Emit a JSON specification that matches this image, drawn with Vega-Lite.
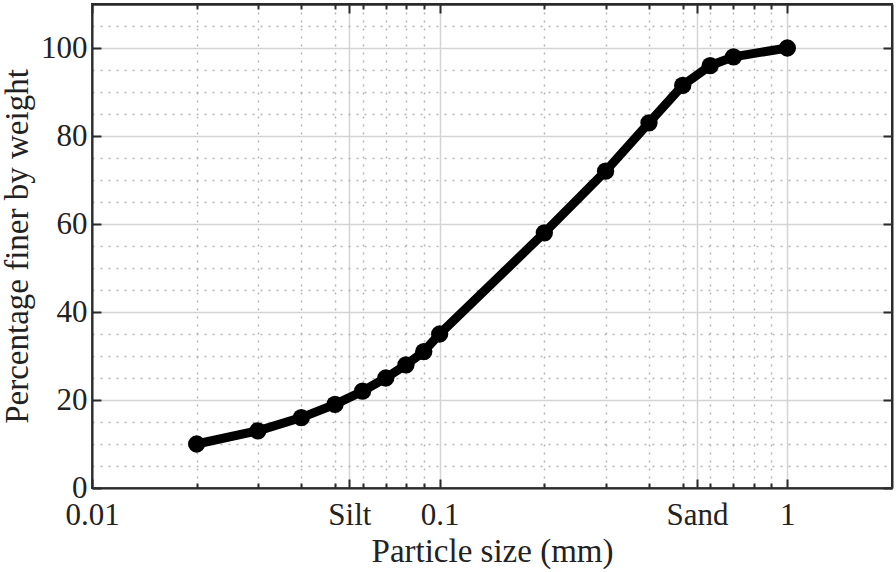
{
  "$schema": "https://vega.github.io/schema/vega-lite/v6.json",
  "width": 800,
  "height": 484,
  "autosize": "none",
  "padding": {"left": 92, "top": 4, "right": 4, "bottom": 84},
  "background": "white",
  "config": {
    "view": {"stroke": "#2b2b2b", "strokeWidth": 2},
    "axis": {
      "labelFont": "Liberation Serif",
      "titleFont": "Liberation Serif",
      "labelFontSize": 31,
      "titleFontSize": 33,
      "labelColor": "#222222",
      "titleColor": "#222222",
      "titleFontWeight": "normal",
      "domainColor": "#2b2b2b",
      "domainWidth": 2,
      "tickColor": "#2b2b2b",
      "tickWidth": 2
    }
  },
  "data": {
    "values": [
      {"size": 0.02, "pct": 10},
      {"size": 0.03, "pct": 13},
      {"size": 0.04, "pct": 16},
      {"size": 0.05, "pct": 19},
      {"size": 0.06, "pct": 22},
      {"size": 0.07, "pct": 25},
      {"size": 0.08, "pct": 28},
      {"size": 0.09, "pct": 31},
      {"size": 0.1, "pct": 35},
      {"size": 0.2, "pct": 58},
      {"size": 0.3, "pct": 72},
      {"size": 0.4, "pct": 83},
      {"size": 0.5, "pct": 91.5},
      {"size": 0.6, "pct": 96},
      {"size": 0.7, "pct": 98},
      {"size": 1, "pct": 100}
    ]
  },
  "resolve": {"scale": {"x": "shared", "y": "shared"}, "axis": {"x": "independent", "y": "independent"}},
  "layer": [
    {
      "mark": {"type": "line", "color": "black", "strokeWidth": 9},
      "encoding": {
        "x": {"field": "size", "type": "quantitative",
          "scale": {"type": "log", "domain": [0.01, 2], "nice": false},
          "axis": {"orient": "bottom", "values": [0.02,0.03,0.04,0.05,0.06,0.07,0.08,0.09,0.2,0.3,0.4,0.5,0.6,0.7,0.8,0.9],
            "labels": false, "domain": false, "tickSize": -5, "title": null,
            "grid": true, "gridColor": "#b5b5b5", "gridDash": [2, 6], "gridWidth": 1.5}},
        "y": {"field": "pct", "type": "quantitative",
          "scale": {"domain": [0, 110], "nice": false, "zero": true},
          "axis": {"orient": "left", "values": [5,10,15,25,30,35,45,50,55,65,70,75,85,90,95,105],
            "labels": false, "domain": false, "ticks": false, "title": null,
            "grid": true, "gridColor": "#b5b5b5", "gridDash": [2, 6], "gridWidth": 1.5}}
      }
    },
    {
      "mark": {"type": "point", "filled": true, "color": "black", "opacity": 1, "size": 300},
      "encoding": {
        "x": {"field": "size", "type": "quantitative",
          "axis": {"orient": "bottom", "values": [0.01, 0.055, 0.1, 0.55, 1],
            "labelExpr": "datum.value < 0.05 ? '0.01' : datum.value < 0.06 ? 'Silt' : datum.value < 0.5 ? '0.1' : datum.value < 0.6 ? 'Sand' : '1'",
            "tickSize": -9, "labelPadding": 21, "labelFlush": false,
            "title": "Particle size (mm)", "titlePadding": 5,
            "grid": true, "gridColor": "#d4d4d4", "gridWidth": 1.5}},
        "y": {"field": "pct", "type": "quantitative",
          "axis": {"orient": "left", "values": [0, 20, 40, 60, 80, 100],
            "tickSize": -9, "labelPadding": 14,
            "title": "Percentage finer by weight", "titlePadding": 6,
            "grid": true, "gridColor": "#d4d4d4", "gridWidth": 1.5}}
      }
    },
    {
      "mark": {"type": "point", "opacity": 0},
      "encoding": {
        "x": {"field": "size", "type": "quantitative",
          "axis": {"orient": "top", "values": [0.02,0.03,0.04,0.05,0.06,0.07,0.08,0.09,0.2,0.3,0.4,0.5,0.6,0.7,0.8,0.9],
            "labels": false, "tickSize": -5, "title": null, "grid": false}},
        "y": {"field": "pct", "type": "quantitative",
          "axis": {"orient": "right", "values": [0, 20, 40, 60, 80, 100],
            "labels": false, "tickSize": -9, "title": null, "grid": false}}
      }
    },
    {
      "mark": {"type": "point", "opacity": 0},
      "encoding": {
        "x": {"field": "size", "type": "quantitative",
          "axis": {"orient": "top", "values": [0.01, 0.055, 0.1, 0.55, 1],
            "labels": false, "tickSize": -9, "title": null, "grid": false}},
        "y": {"field": "pct", "type": "quantitative", "axis": null}
      }
    }
  ]
}
